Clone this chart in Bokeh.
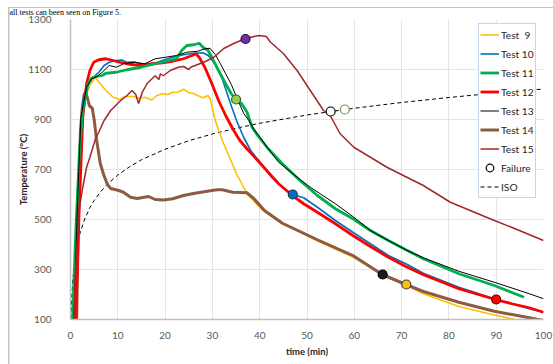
from bokeh.plotting import figure
from bokeh.models import (Legend, LegendItem, ColumnDataSource, FixedTicker, Range1d)
from bokeh.embed import file_html
from bokeh.resources import INLINE

# ---------------- data ----------------
x_ticks = [0, 10, 20, 30, 40, 50, 60, 70, 80, 90, 100]
y_ticks = [100, 300, 500, 700, 900, 1100, 1300]

t9 = [1.0, 1.6, 2.2, 2.8, 3.5, 4.2, 5.2, 6.2, 7.5, 9.0, 10.4, 11.5, 13.4, 14.5, 15.7, 17.2, 18.2,
      19.4, 20.5, 21.6, 22.8, 23.9, 25.0, 26.1, 27.0, 28.0, 29.1, 29.5, 30.6, 32.1, 33.6, 35.1,
      36.6, 37.3, 40.3, 44.8, 47.8, 52.2, 59.7, 65.9, 70.9, 74.6, 82.1, 89.6, 94.0, 96.0]
T9 = [90, 400, 800, 960, 1010, 1040, 1069, 1045, 1016, 989, 980, 992, 992, 985, 989, 978, 995,
      1003, 1000, 1009, 1010, 1021, 1008, 1003, 995, 987, 996, 985, 896, 816, 749, 683,
      629, 603, 543, 483, 456, 414, 350, 280, 239, 203, 152, 118, 100, 95]

t10 = [1.1, 1.9, 2.6, 3.4, 4.5, 6.0, 7.1, 8.2, 9.7, 10.8, 11.9, 13.4, 14.9, 17.2, 19.4, 21.6,
       23.9, 26.1, 28.0, 29.1, 30.6, 32.1, 33.6, 35.1, 36.6, 38.1, 40.3, 42.5, 44.8, 46.9, 49.3,
       52.2, 56.0, 59.7, 63.4, 67.2, 70.9, 74.6, 82.1, 89.6, 97.0, 100.0]
T10 = [90, 709, 976, 1029, 1063, 1089, 1116, 1129, 1136, 1138, 1129, 1130, 1123, 1119, 1136, 1149,
       1159, 1165, 1167, 1156, 1123, 1062, 976, 896, 829, 776, 723, 669, 629, 600, 587,
       549, 496, 449, 403, 356, 323, 285, 229, 183, 143, 129]

t11 = [0.4, 1.1, 1.9, 2.6, 3.7, 4.5, 5.6, 6.7, 7.5, 9.7, 11.9, 14.9, 17.9, 20.1, 22.4, 23.5, 24.6,
       26.1, 27.2, 28.0, 29.1, 30.2, 31.3, 32.8, 34.0, 34.9, 36.2, 37.3, 38.4, 39.6, 41.8, 44.8,
       48.5, 52.2, 56.0, 59.7, 63.4, 67.2, 70.9, 74.6, 82.1, 89.6, 95.9]
T11 = [90, 443, 776, 936, 1043, 1067, 1072, 1076, 1085, 1089, 1099, 1109, 1123, 1132, 1143, 1176, 1196,
       1199, 1205, 1189, 1176, 1136, 1096, 1043, 1003, 980, 963, 930, 869, 835, 783, 723,
       656, 596, 543, 503, 456, 416, 379, 343, 283, 236, 189]

t12 = [1.1, 1.9, 2.6, 3.4, 4.1, 4.9, 6.0, 7.5, 9.0, 10.4, 11.9, 13.4, 14.9, 17.2, 19.4, 21.6, 23.9,
       25.7, 26.5, 27.2, 28.4, 29.9, 31.3, 32.8, 34.3, 35.8, 37.3, 39.6, 41.8, 44.0, 46.9, 49.3,
       52.2, 56.0, 59.7, 63.4, 67.2, 70.9, 74.6, 82.1, 90.0, 93.3, 97.0, 100.0]
T12 = [90, 576, 909, 1043, 1096, 1129, 1139, 1143, 1136, 1129, 1123, 1119, 1116, 1123, 1127, 1133, 1143,
       1156, 1163, 1149, 1109, 1043, 976, 916, 863, 816, 783, 736, 689, 643, 596, 563,
       529, 483, 436, 392, 349, 312, 279, 223, 179, 163, 147, 129]

t13 = [0.7, 1.5, 2.2, 3.4, 4.5, 5.6, 6.7, 8.2, 9.7, 11.2, 13.4, 15.7, 17.9, 20.1, 22.4, 24.6, 26.9,
       28.4, 29.5, 30.6, 31.7, 32.8, 34.0, 35.1, 36.6, 37.7, 38.8, 40.1, 41.5, 44.0, 47.0, 50.7,
       56.0, 59.7, 63.4, 67.2, 70.9, 74.6, 82.1, 89.6, 97.0, 100.0]
T13 = [90, 576, 909, 1029, 1063, 1072, 1089, 1116, 1109, 1123, 1129, 1123, 1143, 1149, 1156, 1169, 1173,
       1183, 1185, 1160, 1123, 1083, 1040, 990, 925, 896, 860, 829, 790, 729, 683, 629,
       563, 512, 456, 416, 379, 347, 293, 249, 203, 183]

t14 = [1.3, 1.6, 2.1, 2.5, 2.9, 3.2, 3.6, 4.0, 4.6, 5.0, 5.5, 6.3, 7.0, 7.8, 8.5, 10.2, 11.2,
       12.7, 14.1, 16.5, 17.9, 19.7, 21.6, 23.9, 26.0, 27.6, 29.9, 31.0, 32.1, 34.3, 37.3, 38.8,
       41.0, 44.8, 52.2, 59.7, 65.9, 70.9, 74.6, 82.1, 89.6, 97.0, 100.0]
T14 = [90, 443, 856, 949, 1000, 1010, 985, 955, 945, 900, 820, 724, 680, 640, 624, 616, 609,
       589, 584, 592, 580, 578, 583, 596, 604, 609, 616, 619, 619, 609, 607, 583,
       536, 485, 419, 356, 280, 240, 212, 169, 133, 107, 96]

t15 = [0.7, 1.1, 1.9, 2.6, 3.4, 4.1, 5.3, 6.0, 7.1, 8.5, 10.6, 11.9, 13.0, 13.8, 14.4, 15.2, 16.2,
       17.9, 18.7, 19.0, 19.6, 21.1, 22.8, 23.9, 25.0, 25.4, 27.6, 28.2, 30.3, 32.4, 34.5, 37.0,
       38.4, 39.8, 41.4, 42.3, 45.0, 47.9, 50.7, 53.5, 54.9, 57.0, 59.9, 63.4, 66.9, 71.1, 74.6,
       80.3, 84.0, 88.7, 94.0, 100.0]
T15 = [90, 309, 549, 629, 709, 749, 824, 850, 896, 936, 976, 995, 1016, 1000, 964, 1010, 1044,
       1075, 1060, 1083, 1075, 1096, 1109, 1112, 1100, 1109, 1125, 1129, 1149, 1184, 1204, 1224,
       1230, 1236, 1232, 1209, 1164, 1096, 1016, 936, 916, 843, 789, 749, 709, 669, 636,
       569, 540, 503, 463, 416]

t_iso = [0, 0.25, 0.5, 1, 1.5, 2, 3, 4, 5, 6, 7.5, 10, 12.5, 15, 20, 25, 30, 35, 40, 50, 60, 70, 80, 90, 100]
T_iso = [20, 185, 261, 349, 404, 445, 502, 544, 576, 602, 636, 678, 711, 739, 781, 815, 842, 865,
         885, 918, 945, 968, 988, 1006, 1022]

fail_t = [35, 37, 47, 55, 58, 66, 71, 90]
fail_T = [980, 1222, 600, 932, 940, 280, 240, 180]
fail_fill = ["#92D050", "#7030A0", "#0070C0", "#FFFFFF", "#FFFFFF", "#1A1A1A", "#FFC000", "#FF0000"]
fail_line = ["#3F5A1E", "#2A1040", "#1F3050", "#000000", "#76923C", "#000000", "#404040", "#5A0000"]

series_names = ["Test  9", "Test 10", "Test 11", "Test 12", "Test 13", "Test 14", "Test 15"]
series_colors = ["#FFC000", "#0070C0", "#00B050", "#FF0000", "#000000", "#8D5B43", "#A0282A"]

page_text = "all tests can been seen on Figure 5."

# ---------------- figure ----------------
FONT = "Lato"
frame_css = ("linear-gradient(#C4C4C4, #C4C4C4) 7.5px 7px / 1.5px 357px no-repeat, "
             "linear-gradient(#C4C4C4, #C4C4C4) 7.5px 7px / 546px 1px no-repeat, white")
p = figure(width=553, height=364, output_backend="svg", toolbar_location=None,
           x_range=Range1d(0, 100), y_range=Range1d(100, 1300),
           min_border_left=70, min_border_right=10, min_border_top=19, min_border_bottom=45,
           styles={"background": frame_css})
p.outline_line_color = None
p.background_fill_color = "white"
p.border_fill_color = "white"
p.border_fill_alpha = 0

# the sentence of the document that sits above the chart
p.title.text = page_text
p.title.text_font = "Liberation Serif"
p.title.text_font_size = "8px"
p.title.text_font_style = "normal"
p.title.text_color = "#000000"
p.title.text_line_height = 1.0
p.title.align = "left"
p.title.offset = -61
p.title.standoff = 6
p.title.background_fill_color = None
p.title.border_line_color = None

p.xaxis.ticker = FixedTicker(ticks=x_ticks)
p.yaxis.ticker = FixedTicker(ticks=y_ticks)
p.xgrid.ticker = FixedTicker(ticks=x_ticks)
p.ygrid.ticker = FixedTicker(ticks=y_ticks)
p.grid.grid_line_color = "#E4E4E4"
p.grid.grid_line_width = 1

for ax in (p.xaxis, p.yaxis):
    ax.major_tick_line_color = None
    ax.minor_tick_line_color = None
    ax.major_tick_out = 0
    ax.major_tick_in = 0
    ax.minor_tick_out = 0
    ax.axis_line_color = "#BFBFBF"
    ax.axis_line_width = 1.5
    ax.major_label_text_font = FONT
    ax.major_label_text_font_size = "10px"
    ax.major_label_text_color = "#595959"
    ax.axis_label_text_font = FONT
    ax.axis_label_text_font_style = "bold"
    ax.axis_label_text_font_size = "9.5px"
    ax.axis_label_text_color = "#262626"

p.yaxis.major_label_standoff = 19
p.xaxis.major_label_standoff = 12
p.yaxis.axis_label = "Temperature (°C)"
p.xaxis.axis_label = "time (min)"
p.yaxis.axis_label_standoff = -4
p.xaxis.axis_label_standoff = 4

# ---------------- glyphs ----------------
r_iso = p.line(t_iso, T_iso, line_color="#000000", line_width=1, line_dash="4 3")
r9 = p.line(t9, T9, line_color=series_colors[0], line_width=1.6)
r14 = p.line(t14, T14, line_color=series_colors[5], line_width=3)
r10 = p.line(t10, T10, line_color=series_colors[1], line_width=1.6)
r12 = p.line(t12, T12, line_color=series_colors[3], line_width=2.8)
r11 = p.line(t11, T11, line_color=series_colors[2], line_width=2.8)
r13 = p.line(t13, T13, line_color=series_colors[4], line_width=1)
r15 = p.line(t15, T15, line_color=series_colors[6], line_width=1.5)

src_fail = ColumnDataSource(dict(t=fail_t, T=fail_T, fill=fail_fill, line=fail_line))
r_fail = p.scatter("t", "T", source=src_fail, marker="circle", size=9, fill_color="fill",
                   line_color="line", line_width=1.2)

items = [
    LegendItem(label=series_names[0], renderers=[r9]),
    LegendItem(label=series_names[1], renderers=[r10]),
    LegendItem(label=series_names[2], renderers=[r11]),
    LegendItem(label=series_names[3], renderers=[r12]),
    LegendItem(label=series_names[4], renderers=[r13]),
    LegendItem(label=series_names[5], renderers=[r14]),
    LegendItem(label=series_names[6], renderers=[r15]),
    LegendItem(label="Failure", renderers=[r_fail], index=3),
    LegendItem(label="ISO", renderers=[r_iso]),
]
legend = Legend(items=items, location=(408, 121))
legend.label_text_font = FONT
legend.label_text_font_size = "10.2px"
legend.label_text_color = "#262626"
legend.glyph_width = 19
legend.glyph_height = 19
legend.label_height = 19
legend.label_standoff = 2
legend.spacing = 0
legend.padding = 1
legend.margin = 0
legend.border_line_color = "#8FAADC"
legend.border_line_width = 1.5
legend.background_fill_color = "white"
legend.background_fill_alpha = 1
p.add_layout(legend)

open("out.html", "w").write(file_html(p, INLINE))
